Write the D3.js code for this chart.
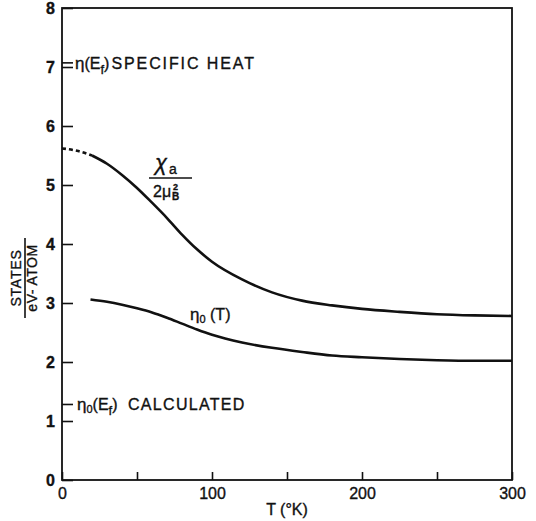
<!DOCTYPE html>
<html>
<head>
<meta charset="utf-8">
<script src="https://cdn.jsdelivr.net/npm/d3@7"></script>
<style>
  body { margin: 0; background: #fff; }
  svg text { font-family: "Liberation Sans", "DejaVu Sans", sans-serif; fill: #111; stroke: #111; stroke-width: 0.35; }
</style>
</head>
<body>
<svg id="chart" width="536" height="521"></svg>
<script>
// susceptibility curve chi_a / 2 mu_B^2  (dashed below 20 K)
var chiT = [0, 10, 20, 30, 40, 50, 60, 70, 80, 90, 100, 120, 140, 160, 180, 200, 225, 250, 275, 300];
var chiV = [5.62, 5.58, 5.50, 5.36, 5.17, 4.95, 4.70, 4.44, 4.16, 3.91, 3.70, 3.40, 3.18, 3.04, 2.96, 2.90, 2.85, 2.81, 2.79, 2.78];
var chiDashEnd = 20;

// eta_0(T) curve
var etaT = [19, 30, 40, 50, 60, 70, 80, 90, 100, 120, 140, 160, 180, 200, 225, 250, 275, 300];
var etaV = [3.06, 3.02, 2.97, 2.91, 2.84, 2.75, 2.65, 2.55, 2.46, 2.33, 2.24, 2.17, 2.11, 2.08, 2.05, 2.03, 2.02, 2.02];

// markers on the y axis
var markerNames = ["specific", "calculated"];
var markerValues = [7.07, 1.28];

var xTicks = [0, 50, 100, 150, 200, 250, 300];
var xLabels = [0, 100, 200, 300];
var yTicks = [0, 1, 2, 3, 4, 5, 6, 7, 8];

var svg = d3.select("svg#chart");
var plotLeft = 62, plotRight = 512, plotTop = 8, plotBottom = 480;

var x = d3.scaleLinear().domain([0, 300]).range([plotLeft, plotRight]);
var y = d3.scaleLinear().domain([0, 8]).range([plotBottom, plotTop]);

// frame
svg.append("rect")
   .attr("x", plotLeft).attr("y", plotTop)
   .attr("width", plotRight - plotLeft).attr("height", plotBottom - plotTop)
   .attr("fill", "none").attr("stroke", "#111").attr("stroke-width", 1.8);

// y axis, ticks pointing inward
var yAxis = svg.append("g")
   .attr("transform", "translate(" + plotLeft + ",0)")
   .call(d3.axisLeft(y).tickValues(yTicks).tickSizeInner(-11).tickSizeOuter(0).tickPadding(7).tickFormat(d3.format("d")));
yAxis.select(".domain").remove();
yAxis.selectAll("line").attr("stroke", "#111").attr("stroke-width", 1.6);
yAxis.selectAll("text").attr("font-size", 16).attr("font-weight", "bold").style("font-family", "Liberation Sans, sans-serif");

// x axis
var xAxis = svg.append("g")
   .attr("transform", "translate(0," + plotBottom + ")")
   .call(d3.axisBottom(x).tickValues(xTicks).tickSizeInner(-8).tickSizeOuter(0).tickPadding(8)
          .tickFormat(function(d) { return xLabels.indexOf(d) >= 0 ? d : ""; }));
xAxis.select(".domain").remove();
xAxis.selectAll("line").attr("stroke", "#111").attr("stroke-width", 1.6);
xAxis.selectAll("text").attr("font-size", 16).style("font-family", "Liberation Sans, sans-serif");

// axis markers
svg.selectAll("line.marker")
   .data(markerValues)
   .enter().append("line")
   .attr("class", "marker")
   .attr("x1", plotLeft).attr("x2", plotLeft + 11)
   .attr("y1", function(d) { return y(d); })
   .attr("y2", function(d) { return y(d); })
   .attr("stroke", "#111").attr("stroke-width", 1.6);

// curves
var line = d3.line()
   .x(function(d) { return x(d[0]); })
   .y(function(d) { return y(d[1]); })
   .curve(d3.curveMonotoneX);

var chiPts = chiT.map(function(t, i) { return [t, chiV[i]]; });
var etaPts = etaT.map(function(t, i) { return [t, etaV[i]]; });

svg.append("path")
   .datum(chiPts.filter(function(d) { return d[0] <= chiDashEnd; }))
   .attr("d", line)
   .attr("fill", "none").attr("stroke", "#111").attr("stroke-width", 2.6)
   .attr("stroke-dasharray", "4,3");

svg.append("path")
   .datum(chiPts.filter(function(d) { return d[0] >= chiDashEnd; }))
   .attr("d", line)
   .attr("fill", "none").attr("stroke", "#111").attr("stroke-width", 2.6);

svg.append("path")
   .datum(etaPts)
   .attr("d", line)
   .attr("fill", "none").attr("stroke", "#111").attr("stroke-width", 2.6);

// annotations
var t1 = svg.append("text").attr("x", 75).attr("y", y(markerValues[0]) + 6).attr("font-size", 16);
t1.append("tspan").attr("font-size", 17).text("η");
t1.append("tspan").text("(E");
t1.append("tspan").attr("font-size", 13).attr("dy", 5).text("f");
t1.append("tspan").attr("dy", -5).text(")");
t1.append("tspan").attr("dx", 2).attr("letter-spacing", 1.9).text("SPECIFIC  HEAT");

var t2 = svg.append("text").attr("x", 77).attr("y", y(markerValues[1]) + 6).attr("font-size", 16);
t2.append("tspan").attr("font-size", 17).text("η");
t2.append("tspan").attr("font-size", 11).attr("dy", 3).text("0");
t2.append("tspan").attr("dy", -3).text("(E");
t2.append("tspan").attr("font-size", 13).attr("dy", 5).text("f");
t2.append("tspan").attr("dy", -5).text(")  ");
t2.append("tspan").attr("dx", 6).attr("letter-spacing", 1.3).text("CALCULATED");

// chi label
var c1 = svg.append("text").attr("x", 155).attr("y", 170).attr("font-size", 22).attr("font-style", "italic");
c1.append("tspan").text("χ");
c1.append("tspan").attr("font-size", 14).attr("font-style", "normal").attr("dy", 4).attr("dx", 2).text("a");
svg.append("line").attr("x1", 149).attr("x2", 192).attr("y1", 178).attr("y2", 178)
   .attr("stroke", "#111").attr("stroke-width", 1.6);
svg.append("text").attr("x", 153).attr("y", 197).attr("font-size", 16).text("2μ");
svg.append("text").attr("x", 172).attr("y", 200).attr("font-size", 10).attr("font-weight", "bold").text("B");
svg.append("text").attr("x", 173).attr("y", 190).attr("font-size", 9).attr("font-weight", "bold").text("2");

// eta_0(T) label
var e1 = svg.append("text").attr("x", 190).attr("y", 320).attr("font-size", 16);
e1.append("tspan").attr("font-size", 17).text("η");
e1.append("tspan").attr("font-size", 11).attr("dy", 3).text("0");
e1.append("tspan").attr("dy", -3).text(" (T)");

// axis titles
svg.append("text").attr("x", (plotLeft + plotRight) / 2 + 0).attr("y", 515)
   .attr("text-anchor", "middle").attr("font-size", 16).text("T (°K)");

var yt = svg.append("g").attr("transform", "translate(25,278) rotate(-90)");
yt.append("text").attr("x", 0).attr("y", -4).attr("text-anchor", "middle")
  .attr("font-size", 14).attr("letter-spacing", 0.8).text("STATES");
yt.append("line").attr("x1", -40).attr("x2", 40).attr("y1", 0).attr("y2", 0)
  .attr("stroke", "#111").attr("stroke-width", 1.6);
yt.append("text").attr("x", 0).attr("y", 12).attr("text-anchor", "middle")
  .attr("font-size", 14).attr("letter-spacing", 0.5).text("eV- ATOM");
</script>
</body>
</html>
